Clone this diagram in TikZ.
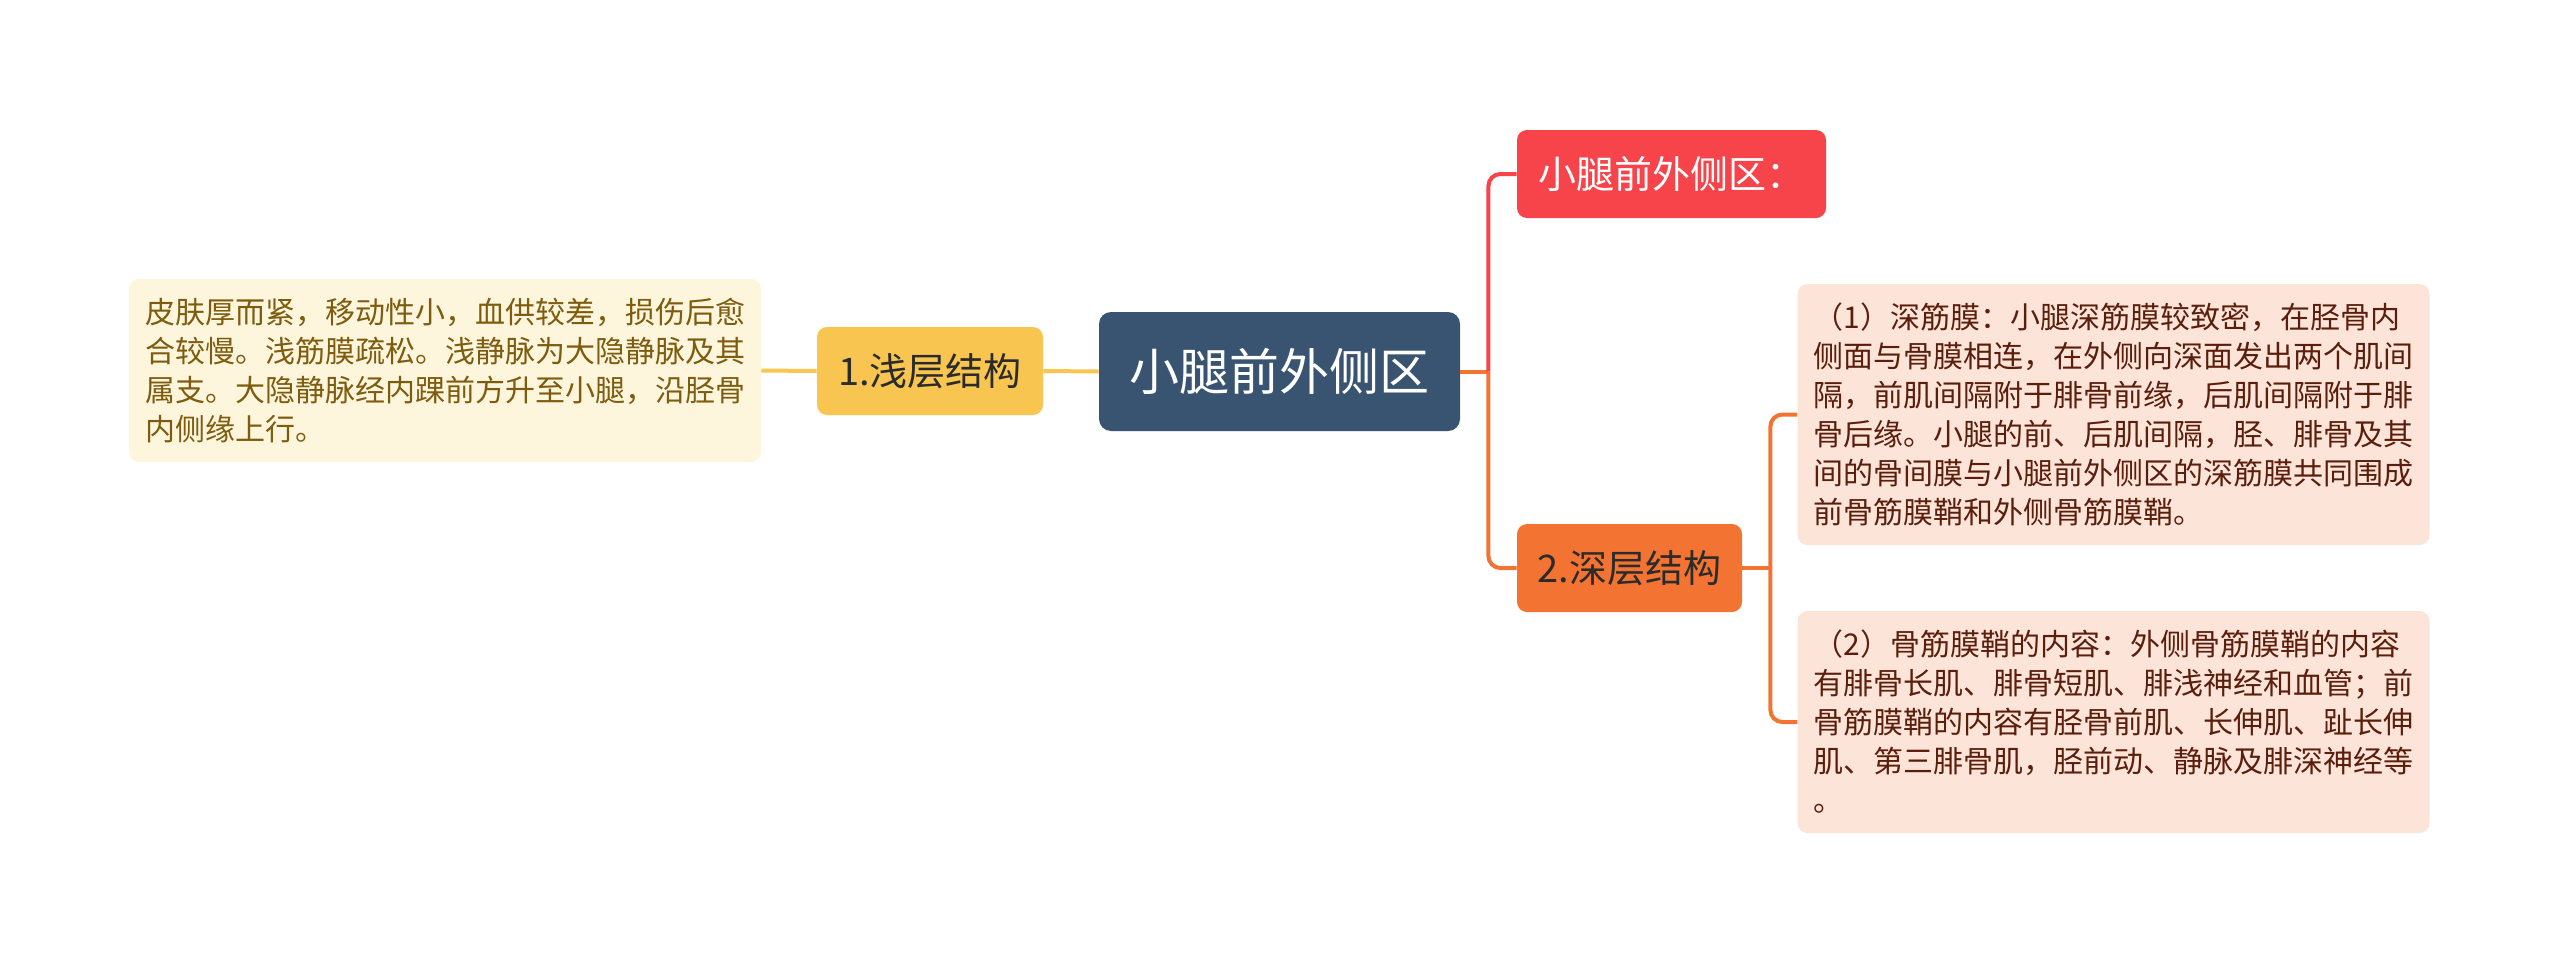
\documentclass[tikz,border=0pt]{standalone}
\usepackage{fontspec}
\usepackage{xcolor}
\usepackage{tikz}
\usetikzlibrary{positioning}
\newfontfamily\cjk{Noto Sans CJK SC}
\definecolor{cRoot}{HTML}{385470}
\definecolor{cRed}{HTML}{F7434A}
\definecolor{cOrange}{HTML}{F37432}
\definecolor{cYellow}{HTML}{F8C650}
\definecolor{cSoftY}{HTML}{FEF5DD}
\definecolor{cSoftO}{HTML}{FCE5D8}
\definecolor{cTextY}{HTML}{7E5C0E}
\definecolor{cTextO}{HTML}{5C1E0C}
\definecolor{cInk}{HTML}{2B2B2B}
\tikzset{
  box/.style    = {rectangle, rounded corners=5pt, fill=#1, draw=none,
                   align=center, inner sep=0pt},
  box/.default  = cRoot,
  rootbox/.style = {box=cRoot, text=white, minimum width=180.5pt, minimum height=59.5pt,
                   rounded corners=6pt, font=\cjk\fontsize{25}{30}\selectfont},
  topic/.style  = {box=#1, minimum height=44pt, font=\cjk\fontsize{19}{23}\selectfont},
  note/.style   = {box=#1, align=left, text width=300pt, minimum width=316pt,
                   inner xsep=8pt, font=\cjk\fontsize{15}{19.5}\selectfont},
  ln/.style     = {draw=#1, line width=2pt, rounded corners=6pt},
}

\begin{document}
\begin{tikzpicture}[x=0.5pt, y=-0.5pt]
  \useasboundingbox (0,0) rectangle (2560,964);

  \node[rootbox] (root) at (1279.5,371.5) {小腿前外侧区};

  \node[topic=cYellow, text=cInk, minimum width=113pt] (shallow) at (930,371) {1.浅层结构};
  \node[note=cSoftY, text=cTextY, minimum height=91.5pt] (shallowTxt) at (445,370.5)
    {皮肤厚而紧，移动性小，血供较差，损伤后愈\\
     合较慢。浅筋膜疏松。浅静脉为大隐静脉及其\\
     属支。大隐静脉经内踝前方升至小腿，沿胫骨\\
     内侧缘上行。};

  \node[topic=cRed, text=white, minimum width=154.5pt] (region) at (1671.5,174) {小腿前外侧区：};
  \node[topic=cOrange, text=cInk, minimum width=112.5pt] (deep) at (1629.5,568) {2.深层结构};

  \node[note=cSoftO, text=cTextO, minimum height=130.5pt] (fascia) at (2113.5,414.5)
    {（1）深筋膜：小腿深筋膜较致密，在胫骨内\\
     侧面与骨膜相连，在外侧向深面发出两个肌间\\
     隔，前肌间隔附于腓骨前缘，后肌间隔附于腓\\
     骨后缘。小腿的前、后肌间隔，胫、腓骨及其\\
     间的骨间膜与小腿前外侧区的深筋膜共同围成\\
     前骨筋膜鞘和外侧骨筋膜鞘。};
  \node[note=cSoftO, text=cTextO, minimum height=111pt] (sheath) at (2113.5,722)
    {（2）骨筋膜鞘的内容：外侧骨筋膜鞘的内容\\
     有腓骨长肌、腓骨短肌、腓浅神经和血管；前\\
     骨筋膜鞘的内容有胫骨前肌、长伸肌、趾长伸\\
     肌、第三腓骨肌，胫前动、静脉及腓深神经等\\
     。};

  % left branch
  \draw[ln=cYellow] (root.west) -- (shallow.east);
  \draw[ln=cYellow] (shallow.west) -- (shallowTxt.east);

  % right branches
  \draw[ln=cOrange] (root.east) -- ++(28,0) coordinate (jRoot);
  \draw[ln=cRed] (jRoot) |- (region.west);
  \draw[ln=cOrange] (jRoot) |- (deep.west);
  \draw[ln=cOrange] (deep.east) -- ++(28,0) coordinate (jDeep);
  \draw[ln=cOrange] (jDeep) |- (fascia.west);
  \draw[ln=cOrange] (jDeep) |- (sheath.west);
\end{tikzpicture}
\end{document}
